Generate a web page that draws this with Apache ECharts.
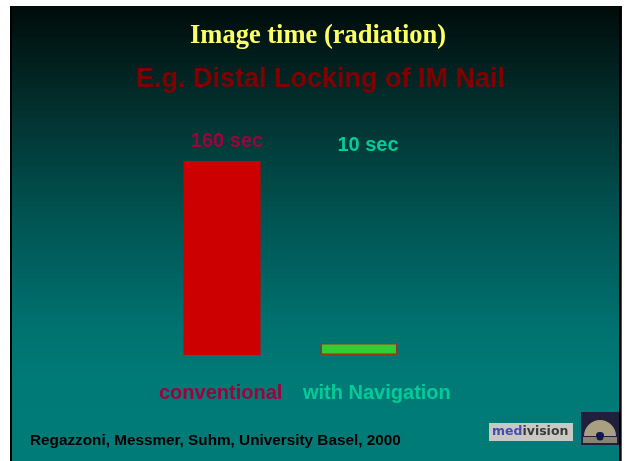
<!DOCTYPE html>
<html>
<head>
<meta charset="utf-8">
<script src="https://cdn.jsdelivr.net/npm/echarts@6/dist/echarts.min.js"></script>
<style>
  html, body { margin: 0; padding: 0; background: #ffffff; }
  #chart { width: 625px; height: 461px; }
</style>
</head>
<body>
<div id="chart"></div>
<script>
// Imaging time per procedure (seconds)
const categories = ['conventional', 'with Navigation'];
const seconds = [160, 10];
const valueLabels = ['160 sec', '10 sec'];
const categoryColors = ['#a0003c', '#00cc99'];

const chart = echarts.init(document.getElementById('chart'));

const option = {
  backgroundColor: '#ffffff',
  animation: false,
  title: [
    {
      text: 'Image time (radiation)',
      left: 185, top: 18,
      textStyle: { fontFamily: 'Liberation Serif', fontWeight: 'bold', fontSize: 26.5, color: '#ffff66' }
    },
    {
      text: 'E.g. Distal Locking of IM Nail',
      left: 131, top: 61,
      textStyle: { fontFamily: 'Liberation Sans', fontWeight: 'bold', fontSize: 27, color: '#800000' }
    }
  ],
  grid: { left: 153.5, right: 197.5, top: 161, bottom: 106 },
  xAxis: [
    {
      type: 'category',
      data: categories,
      axisLine: { show: false }, axisTick: { show: false },
      axisLabel: { show: false }
    },
    {
      type: 'category',
      position: 'top',
      data: valueLabels,
      axisLine: { show: false }, axisTick: { show: false },
      axisLabel: {
        margin: 10,
        formatter: (v, i) => '{c' + i + '|' + v + '}',
        rich: {
          c0: { fontFamily: 'Liberation Sans', fontWeight: 'bold', fontSize: 20, color: categoryColors[0], padding: [0, 0, 0, 10] },
          c1: { fontFamily: 'Liberation Sans', fontWeight: 'bold', fontSize: 20, color: categoryColors[1], padding: [0, 0, -4, 18] }
        }
      }
    }
  ],
  yAxis: {
    type: 'value', min: 0, max: 160,
    show: false, splitLine: { show: false }
  },
  series: [{
    type: 'bar',
    barWidth: 77,
    data: seconds.map((v, i) => ({
      value: v,
      itemStyle: i === 0
        ? { color: '#cc0000' }
        : { color: '#33cc33', borderColor: '#993322', borderWidth: 1.5 }
    }))
  }],
  graphic: [
    // slide background
    {
      type: 'rect', z: -10, silent: true,
      shape: { x: 10, y: 6, width: 612, height: 455 },
      style: {
        fill: new echarts.graphic.LinearGradient(0, 0, 0, 1, [
          { offset: 0, color: '#000c0a' },
          { offset: 0.22, color: '#022f2d' },
          { offset: 0.45, color: '#005250' },
          { offset: 0.7, color: '#00716f' },
          { offset: 0.82, color: '#007a77' },
          { offset: 1, color: '#007b78' }
        ])
      }
    },
    { type: 'rect', z: -9, silent: true, shape: { x: 10, y: 6, width: 2, height: 455 }, style: { fill: '#000000' } },
    { type: 'rect', z: -9, silent: true, shape: { x: 619, y: 6, width: 2, height: 455 }, style: { fill: '#000000' } },
    // category names below the bars
    {
      type: 'text', z: 10, left: 159, top: 383,
      style: { text: categories[0], font: 'bold 20px "Liberation Sans"', fill: categoryColors[0] }
    },
    {
      type: 'text', z: 10, left: 303, top: 383,
      style: { text: categories[1], font: 'bold 20px "Liberation Sans"', fill: categoryColors[1] }
    },
    // source line
    {
      type: 'text', z: 10, left: 30, top: 433,
      style: { text: 'Regazzoni, Messmer, Suhm, University Basel, 2000', font: 'bold 15.3px "Liberation Sans"', fill: '#000000' }
    },
    // medivision badge
    {
      type: 'group', z: 20, left: 489, top: 423,
      children: [
        { type: 'rect', shape: { x: 0, y: 0, width: 84, height: 18 }, style: { fill: '#c9c9c4' } },
        {
          type: 'text', x: 3, y: 2,
          style: {
            text: '{a|med}{b|ivision}',
            rich: {
              a: { font: 'bold 12.5px "DejaVu Sans"', fill: '#4848b8' },
              b: { font: 'bold 12.5px "DejaVu Sans"', fill: '#3a3a3a' }
            }
          }
        }
      ]
    },
    // university seal
    {
      type: 'group', z: 20, left: 581, top: 412,
      children: [
        { type: 'rect', shape: { x: 0, y: 0, width: 38, height: 33 }, style: { fill: '#20203c' } },
        { type: 'sector', shape: { cx: 19, cy: 24, r0: 4, r: 16, startAngle: Math.PI, endAngle: Math.PI * 2 }, style: { fill: '#a8a080' } },
        { type: 'circle', shape: { cx: 19, cy: 24, r: 4 }, style: { fill: '#1a1a60' } },
        { type: 'rect', shape: { x: 2, y: 25, width: 34, height: 6 }, style: { fill: '#8a8470' } },
        { type: 'circle', shape: { cx: 19, cy: 25, r: 3.5 }, style: { fill: '#141450' } }
      ]
    }
  ]
};

chart.setOption(option);
</script>
</body>
</html>
